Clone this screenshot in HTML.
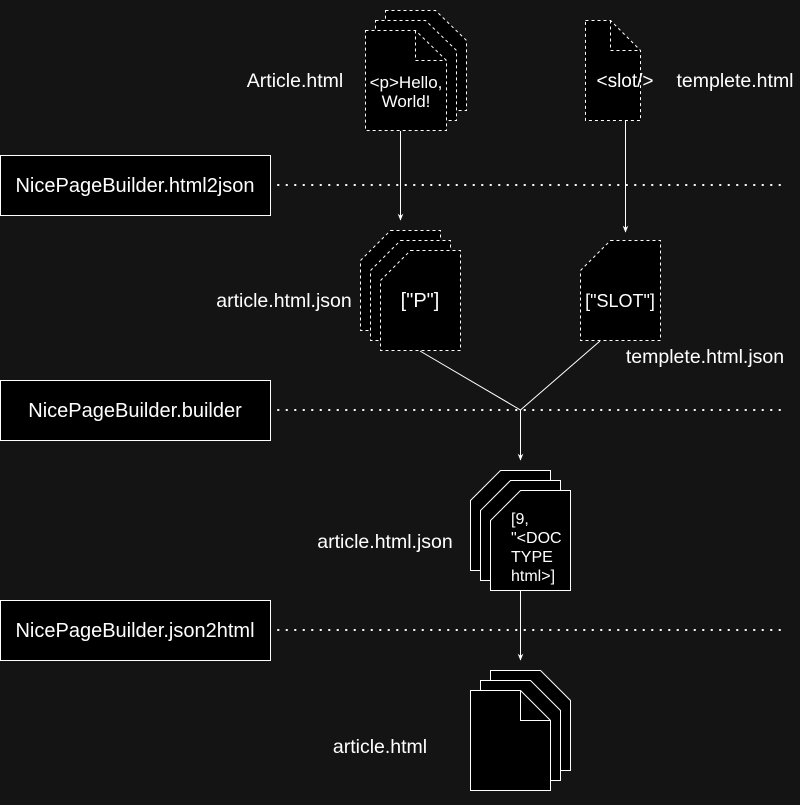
<!DOCTYPE html>
<html><head><meta charset="utf-8"><style>
body{margin:0;background:#141414;}
svg text{font-family:"Liberation Sans",Arial,sans-serif;fill:#fff;}
</style></head><body>
<svg width="800" height="800" viewBox="0 0 800 800" xmlns="http://www.w3.org/2000/svg">
<defs>
<marker id="a" viewBox="0 0 10 10" refX="9" refY="5" markerWidth="7" markerHeight="7" orient="auto"><path d="M0,1 L10,5 L0,9 L3,5 z" fill="#fff"/></marker>
</defs>
<g stroke="#fff" fill="#000" stroke-width="1">
<rect x="0.5" y="155.5" width="270" height="60"/>
<rect x="0.5" y="380.5" width="270" height="60"/>
<rect x="0.5" y="600.5" width="270" height="60"/>
</g>
<g stroke="#fff" stroke-width="2" stroke-dasharray="0.5 8" stroke-linecap="round">
<line x1="278" y1="185" x2="780" y2="185"/>
<line x1="278" y1="410" x2="780" y2="410"/>
<line x1="278" y1="630" x2="780" y2="630"/>
</g>
<g font-size="20" text-anchor="middle">
<text x="135" y="192">NicePageBuilder.html2json</text>
<text x="135" y="417">NicePageBuilder.builder</text>
<text x="135" y="637">NicePageBuilder.json2html</text>
</g>
<g stroke="#fff" fill="#000" stroke-dasharray="3 3">
<path d="M385.5,10.5 H435.5 L466.5,40.5 V110.5 H385.5 Z"/>
<path d="M375.5,20.5 H425.5 L456.5,50.5 V120.5 H375.5 Z"/>
<path d="M365.5,30.5 H415.5 L446.5,60.5 V130.5 H365.5 Z"/>
<path d="M415.5,30.5 V60.5 H446.5" fill="none"/>
<path d="M585.5,20.5 H610.5 L640.5,50.5 V120.5 H585.5 Z"/>
<path d="M610.5,20.5 V50.5 H640.5" fill="none"/>
<path d="M390.5,230.5 H440.5 V330.5 H360.5 V260.5 Z"/>
<path d="M400.5,240.5 H450.5 V340.5 H370.5 V270.5 Z"/>
<path d="M410.5,250.5 H460.5 V350.5 H380.5 V280.5 Z"/>
<path d="M610.5,240.5 H660.5 V340.5 H580.5 V270.5 Z"/>
</g>
<g stroke="#fff" fill="#000">
<path d="M500.5,470.5 H550.5 V570.5 H470.5 V500.5 Z"/>
<path d="M510.5,480.5 H560.5 V580.5 H480.5 V510.5 Z"/>
<path d="M520.5,490.5 H570.5 V590.5 H490.5 V520.5 Z"/>
<path d="M490.5,670.5 H540.5 L570.5,700.5 V770.5 H490.5 Z"/>
<path d="M480.5,680.5 H530.5 L560.5,710.5 V780.5 H480.5 Z"/>
<path d="M470.5,690.5 H520.5 L550.5,720.5 V790.5 H470.5 Z"/>
<path d="M520.5,690.5 V720.5 H550.5" fill="none"/>
</g>
<g stroke="#fff" fill="none">
<line x1="400.5" y1="131" x2="400.5" y2="220" marker-end="url(#a)"/>
<line x1="625.5" y1="121" x2="625.5" y2="232" marker-end="url(#a)"/>
<polyline points="420,351 520.5,410 600,341"/>
<line x1="520.5" y1="410" x2="520.5" y2="460" marker-end="url(#a)"/>
<line x1="520.5" y1="591" x2="520.5" y2="660" marker-end="url(#a)"/>
</g>
<g font-size="17" text-anchor="middle">
<text x="406" y="88">&lt;p&gt;Hello,</text>
<text x="406" y="107">World!</text>
</g>
<text x="625" y="87" font-size="19" text-anchor="middle">&lt;slot/&gt;</text>
<text x="420" y="307" font-size="20" text-anchor="middle">["P"]</text>
<text x="620" y="307" font-size="18" text-anchor="middle">["SLOT"]</text>
<g font-size="16">
<text x="511" y="524">[9,</text>
<text x="511" y="543">"&lt;DOC</text>
<text x="511" y="562">TYPE</text>
<text x="511" y="581">html&gt;]</text>
</g>
<g font-size="19.5" text-anchor="middle">
<text x="295" y="87">Article.html</text>
<text x="735" y="87">templete.html</text>
<text x="284" y="307">article.html.json</text>
<text x="705" y="363">templete.html.json</text>
<text x="385" y="548">article.html.json</text>
<text x="380" y="753">article.html</text>
</g>
</svg>
</body></html>
